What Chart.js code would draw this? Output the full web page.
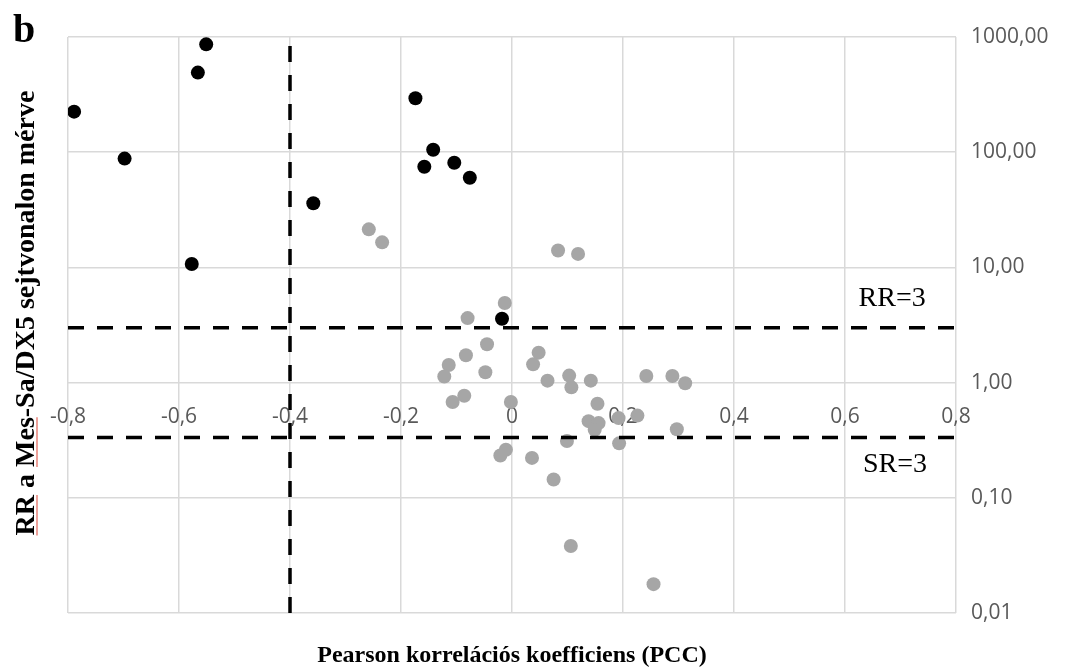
<!DOCTYPE html>
<html lang="hu">
<head>
<meta charset="utf-8">
<title>RR vs PCC</title>
<script src="https://cdn.jsdelivr.net/npm/chart.js@4.4.0/dist/chart.umd.min.js"></script>
<style>
  html, body { margin: 0; padding: 0; background: #fff; }
  canvas { display: block; }
</style>
</head>
<body>
<canvas id="rrChart" width="1071" height="671"></canvas>
<script>
// Gének, amelyek a küszöbön kívül esnek (fekete)
const pccBlack = [-0.789, -0.698, -0.566, -0.551, -0.577, -0.358, -0.174, -0.142, -0.158, -0.104, -0.076, -0.018];
const rrBlack  = [225, 88, 491, 863, 10.7, 36, 294, 105, 74.7, 81, 60, 3.58];

// Többi gén (szürke)
const pccGrey = [-0.258, -0.234, 0.083, 0.119, -0.013, -0.080, -0.045, -0.083, -0.114, -0.122,
                 -0.048, -0.107, -0.086, -0.002, 0.048, 0.038, 0.064, 0.103, 0.107, 0.142,
                 0.154, 0.138, 0.156, 0.149, 0.192, 0.226, 0.242, 0.289, 0.312, 0.297,
                 0.193, 0.099, -0.011, -0.021, 0.036, 0.075, 0.106, 0.255];
const rrGrey  = [21.4, 16.5, 14.0, 13.1, 4.91, 3.63, 2.15, 1.73, 1.42, 1.13,
                 1.23, 0.679, 0.769, 0.679, 1.82, 1.44, 1.04, 1.15, 0.909, 1.04,
                 0.655, 0.463, 0.445, 0.390, 0.492, 0.517, 1.14, 1.14, 0.986, 0.394,
                 0.297, 0.311, 0.261, 0.233, 0.222, 0.144, 0.0382, 0.0178];

// Tengelyosztások
const xTicks = [-0.8, -0.6, -0.4, -0.2, 0, 0.2, 0.4, 0.6, 0.8];
const yTicks = [0.01, 0.1, 1, 10, 100, 1000];

// Küszöbértékek
const RR_CUT = 3;
const PCC_CUT = -0.4;

function toPoints(xs, ys) {
    return xs.map((x, i) => ({ x: x, y: ys[i] }));
}

const dashStyle = {
    showLine: true,
    borderColor: '#000',
    borderWidth: 3.5,
    borderDash: [16, 13],
    borderCapStyle: 'butt',
    pointRadius: 0,
    order: 0
};

const xMin = xTicks[0], xMax = xTicks[xTicks.length - 1];
const yMin = yTicks[0], yMax = yTicks[yTicks.length - 1];

// Feliratok: "b", tengelycímek, RR=3 / SR=3
const labelsPlugin = {
    id: 'labels',
    afterDraw(chart) {
        const ctx = chart.ctx;
        const xs = chart.scales.x, ys = chart.scales.y;
        ctx.save();
        ctx.fillStyle = '#000';

        ctx.font = 'bold 40px "Liberation Serif", serif';
        ctx.textAlign = 'left';
        ctx.textBaseline = 'alphabetic';
        ctx.fillText('b', 13, 42);

        ctx.font = '28px "Liberation Serif", serif';
        ctx.textAlign = 'center';
        ctx.fillText('RR=3', xs.getPixelForValue(0.685), ys.getPixelForValue(RR_CUT) - 22);
        ctx.fillText('SR=3', xs.getPixelForValue(0.69), ys.getPixelForValue(1 / RR_CUT) + 34);

        ctx.font = 'bold 24px "Liberation Serif", serif';
        ctx.textBaseline = 'middle';
        ctx.fillText('Pearson korrelációs koefficiens (PCC)', (xs.left + xs.right) / 2, 656);

        // függőleges cím, a helyesírás-ellenőrző aláhúzásával
        const yTitle = 'RR a Mes-Sa/DX5 sejtvonalon mérve';
        ctx.translate(25, 313);
        ctx.rotate(-Math.PI / 2);
        ctx.font = 'bold 28px "Liberation Serif", serif';
        ctx.textAlign = 'left';
        ctx.textBaseline = 'alphabetic';
        const start = -ctx.measureText(yTitle).width / 2;
        ctx.fillText(yTitle, start, 9);
        const w = s => ctx.measureText(s).width;
        ctx.strokeStyle = '#e8837a';
        ctx.lineWidth = 1.5;
        ctx.beginPath();
        ctx.moveTo(start, 12);
        ctx.lineTo(start + w('RR'), 12);
        ctx.moveTo(start + w('RR a '), 12);
        ctx.lineTo(start + w('RR a Mes'), 12);
        ctx.stroke();
        ctx.restore();
    }
};

new Chart(document.getElementById('rrChart'), {
    type: 'scatter',
    data: {
        datasets: [
            Object.assign({ data: [{ x: xMin, y: RR_CUT }, { x: xMax, y: RR_CUT }] }, dashStyle),
            Object.assign({ data: [{ x: xMin, y: 1 / RR_CUT }, { x: xMax, y: 1 / RR_CUT }] }, dashStyle),
            Object.assign({ data: [{ x: PCC_CUT, y: yMin }, { x: PCC_CUT, y: yMax }] }, dashStyle),
            {
                data: toPoints(pccBlack, rrBlack),
                backgroundColor: '#000',
                borderWidth: 0,
                pointRadius: 7,
                order: 1
            },
            {
                data: toPoints(pccGrey, rrGrey),
                backgroundColor: '#a6a6a6',
                borderWidth: 0,
                pointRadius: 7,
                order: 2
            }
        ]
    },
    options: {
        responsive: false,
        animation: false,
        layout: { padding: { left: 68, top: 37, right: 0, bottom: 58 } },
        plugins: {
            legend: { display: false },
            tooltip: { enabled: false }
        },
        scales: {
            x: {
                type: 'linear',
                min: xMin,
                max: xMax,
                position: { y: 1 },
                afterBuildTicks: s => { s.ticks = xTicks.map(v => ({ value: v })); },
                grid: { color: '#d9d9d9', lineWidth: 1.5, drawTicks: false },
                border: { display: false },
                ticks: {
                    color: '#595959',
                    padding: 22,
                    font: { family: '"Open Sans", sans-serif', size: 21 },
                    callback: v => Math.abs(v) < 1e-9 ? '0' : v.toFixed(1).replace('.', ',')
                }
            },
            y: {
                type: 'logarithmic',
                position: 'right',
                min: yMin,
                max: yMax,
                afterBuildTicks: s => { s.ticks = yTicks.map(v => ({ value: v })); },
                afterFit: s => { s.width = 115; },
                grid: { color: '#d9d9d9', lineWidth: 1.5, drawTicks: false },
                border: { display: false },
                ticks: {
                    color: '#595959',
                    padding: 15,
                    font: { family: '"Open Sans", sans-serif', size: 21 },
                    callback: v => v.toFixed(2).replace('.', ',')
                }
            }
        }
    },
    plugins: [labelsPlugin]
});
</script>
</body>
</html>
